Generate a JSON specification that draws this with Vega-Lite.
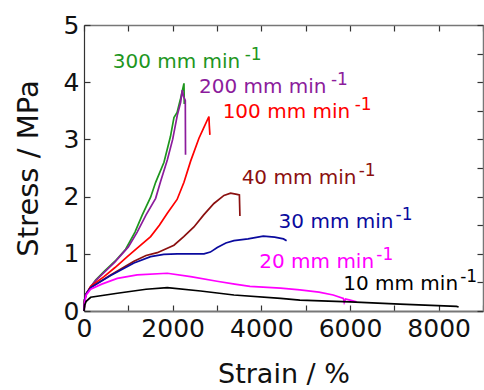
{
  "$schema": "https://vega.github.io/schema/vega-lite/v6.json",
  "width": 399,
  "height": 286,
  "autosize": {"type": "none"},
  "padding": {"left": 84, "top": 25, "right": 1, "bottom": 79},
  "background": "white",
  "config": {
    "view": {"stroke": null},
    "font": "DejaVu Sans",
    "axis": {
      "grid": false,
      "labelFont": "DejaVu Sans",
      "labelFontSize": 25,
      "labelColor": "#111",
      "titleFont": "DejaVu Sans",
      "titleFontWeight": "normal",
      "titleColor": "#111",
      "tickSize": -6,
      "tickColor": "#333",
      "tickWidth": 1.2,
      "domainColor": "#777",
      "domainWidth": 1.5,
      "labelOverlap": false,
      "labelFlush": false
    }
  },
  "datasets": {
    "curves": [
      {"series": "300", "strain": 0, "stress": 0},
      {"series": "300", "strain": 15, "stress": 0.2},
      {"series": "300", "strain": 50, "stress": 0.3},
      {"series": "300", "strain": 150, "stress": 0.42},
      {"series": "300", "strain": 263, "stress": 0.54},
      {"series": "300", "strain": 450, "stress": 0.69},
      {"series": "300", "strain": 700, "stress": 0.87},
      {"series": "300", "strain": 940, "stress": 1.08},
      {"series": "300", "strain": 1150, "stress": 1.38},
      {"series": "300", "strain": 1315, "stress": 1.68},
      {"series": "300", "strain": 1503, "stress": 1.99},
      {"series": "300", "strain": 1616, "stress": 2.25},
      {"series": "300", "strain": 1804, "stress": 2.6},
      {"series": "300", "strain": 1950, "stress": 3.05},
      {"series": "300", "strain": 2029, "stress": 3.38},
      {"series": "300", "strain": 2100, "stress": 3.47},
      {"series": "300", "strain": 2180, "stress": 3.72},
      {"series": "300", "strain": 2255, "stress": 3.98},
      {"series": "300", "strain": 2262, "stress": 3.62},
      {"series": "200", "strain": 0, "stress": 0},
      {"series": "200", "strain": 15, "stress": 0.2},
      {"series": "200", "strain": 50, "stress": 0.3},
      {"series": "200", "strain": 150, "stress": 0.42},
      {"series": "200", "strain": 263, "stress": 0.53},
      {"series": "200", "strain": 450, "stress": 0.67},
      {"series": "200", "strain": 700, "stress": 0.86},
      {"series": "200", "strain": 1000, "stress": 1.12},
      {"series": "200", "strain": 1200, "stress": 1.38},
      {"series": "200", "strain": 1400, "stress": 1.68},
      {"series": "200", "strain": 1616, "stress": 1.97},
      {"series": "200", "strain": 1729, "stress": 2.27},
      {"series": "200", "strain": 1879, "stress": 2.64},
      {"series": "200", "strain": 2000, "stress": 3.0},
      {"series": "200", "strain": 2104, "stress": 3.42},
      {"series": "200", "strain": 2180, "stress": 3.65},
      {"series": "200", "strain": 2217, "stress": 3.86},
      {"series": "200", "strain": 2245, "stress": 3.75},
      {"series": "200", "strain": 2285, "stress": 3.68},
      {"series": "200", "strain": 2290, "stress": 2.73},
      {"series": "100", "strain": 0, "stress": 0},
      {"series": "100", "strain": 15, "stress": 0.2},
      {"series": "100", "strain": 50, "stress": 0.3},
      {"series": "100", "strain": 150, "stress": 0.43},
      {"series": "100", "strain": 451, "stress": 0.6},
      {"series": "100", "strain": 700, "stress": 0.76},
      {"series": "100", "strain": 977, "stress": 0.95},
      {"series": "100", "strain": 1200, "stress": 1.1},
      {"series": "100", "strain": 1503, "stress": 1.3},
      {"series": "100", "strain": 1700, "stress": 1.5},
      {"series": "100", "strain": 1879, "stress": 1.71},
      {"series": "100", "strain": 2100, "stress": 1.95},
      {"series": "100", "strain": 2255, "stress": 2.25},
      {"series": "100", "strain": 2405, "stress": 2.62},
      {"series": "100", "strain": 2593, "stress": 3.02},
      {"series": "100", "strain": 2700, "stress": 3.2},
      {"series": "100", "strain": 2818, "stress": 3.4},
      {"series": "100", "strain": 2826, "stress": 3.25},
      {"series": "100", "strain": 2840, "stress": 3.08},
      {"series": "40", "strain": 0, "stress": 0},
      {"series": "40", "strain": 15, "stress": 0.2},
      {"series": "40", "strain": 50, "stress": 0.3},
      {"series": "40", "strain": 150, "stress": 0.41},
      {"series": "40", "strain": 601, "stress": 0.63},
      {"series": "40", "strain": 1127, "stress": 0.87},
      {"series": "40", "strain": 1400, "stress": 0.97},
      {"series": "40", "strain": 1653, "stress": 1.02},
      {"series": "40", "strain": 2029, "stress": 1.15},
      {"series": "40", "strain": 2250, "stress": 1.3},
      {"series": "40", "strain": 2480, "stress": 1.47},
      {"series": "40", "strain": 2700, "stress": 1.68},
      {"series": "40", "strain": 2931, "stress": 1.88},
      {"series": "40", "strain": 3157, "stress": 2.02},
      {"series": "40", "strain": 3307, "stress": 2.06},
      {"series": "40", "strain": 3450, "stress": 2.04},
      {"series": "40", "strain": 3505, "stress": 2.03},
      {"series": "40", "strain": 3517, "stress": 1.66},
      {"series": "30", "strain": 0, "stress": 0},
      {"series": "30", "strain": 15, "stress": 0.2},
      {"series": "30", "strain": 50, "stress": 0.3},
      {"series": "30", "strain": 150, "stress": 0.41},
      {"series": "30", "strain": 601, "stress": 0.62},
      {"series": "30", "strain": 1127, "stress": 0.84},
      {"series": "30", "strain": 1503, "stress": 0.95},
      {"series": "30", "strain": 1800, "stress": 0.99},
      {"series": "30", "strain": 2104, "stress": 1.0},
      {"series": "30", "strain": 2400, "stress": 1.0},
      {"series": "30", "strain": 2706, "stress": 1.0},
      {"series": "30", "strain": 2850, "stress": 1.03},
      {"series": "30", "strain": 3006, "stress": 1.11},
      {"series": "30", "strain": 3200, "stress": 1.19},
      {"series": "30", "strain": 3382, "stress": 1.23},
      {"series": "30", "strain": 3700, "stress": 1.26},
      {"series": "30", "strain": 4043, "stress": 1.31},
      {"series": "30", "strain": 4300, "stress": 1.29},
      {"series": "30", "strain": 4500, "stress": 1.26},
      {"series": "30", "strain": 4570, "stress": 1.23},
      {"series": "20", "strain": 0, "stress": 0},
      {"series": "20", "strain": 15, "stress": 0.15},
      {"series": "20", "strain": 50, "stress": 0.28},
      {"series": "20", "strain": 150, "stress": 0.38},
      {"series": "20", "strain": 400, "stress": 0.47},
      {"series": "20", "strain": 752, "stress": 0.57},
      {"series": "20", "strain": 1200, "stress": 0.63},
      {"series": "20", "strain": 1879, "stress": 0.66},
      {"series": "20", "strain": 2405, "stress": 0.6},
      {"series": "20", "strain": 3000, "stress": 0.52},
      {"series": "20", "strain": 3400, "stress": 0.47},
      {"series": "20", "strain": 3743, "stress": 0.43},
      {"series": "20", "strain": 4435, "stress": 0.4},
      {"series": "20", "strain": 4870, "stress": 0.37},
      {"series": "20", "strain": 5300, "stress": 0.33},
      {"series": "20", "strain": 5621, "stress": 0.28},
      {"series": "20", "strain": 5850, "stress": 0.22},
      {"series": "20", "strain": 5870, "stress": 0.15},
      {"series": "20", "strain": 5900, "stress": 0.21},
      {"series": "20", "strain": 6000, "stress": 0.19},
      {"series": "20", "strain": 6149, "stress": 0.16},
      {"series": "10", "strain": 0, "stress": 0},
      {"series": "10", "strain": 15, "stress": 0.1},
      {"series": "10", "strain": 50, "stress": 0.17},
      {"series": "10", "strain": 150, "stress": 0.24},
      {"series": "10", "strain": 752, "stress": 0.31},
      {"series": "10", "strain": 1400, "stress": 0.38},
      {"series": "10", "strain": 1879, "stress": 0.41},
      {"series": "10", "strain": 2631, "stress": 0.35},
      {"series": "10", "strain": 3382, "stress": 0.28},
      {"series": "10", "strain": 4435, "stress": 0.22},
      {"series": "10", "strain": 4870, "stress": 0.19},
      {"series": "10", "strain": 6000, "stress": 0.16},
      {"series": "10", "strain": 7125, "stress": 0.12},
      {"series": "10", "strain": 8403, "stress": 0.08},
      {"series": "10", "strain": 8450, "stress": 0.07}
    ],
    "labels": [
      {"series": "300", "label": "300 mm min", "lx": 647, "ly": 4.24, "digits": 3},
      {"series": "200", "label": "200 mm min", "lx": 2593, "ly": 3.81, "digits": 3},
      {"series": "100", "label": "100 mm min", "lx": 3127, "ly": 3.37, "digits": 3},
      {"series": "40", "label": "40 mm min", "lx": 3556, "ly": 2.215, "digits": 2},
      {"series": "30", "label": "30 mm min", "lx": 4390, "ly": 1.446, "digits": 2},
      {"series": "20", "label": "20 mm min", "lx": 3953, "ly": 0.757, "digits": 2},
      {"series": "10", "label": "10 mm min", "lx": 5847, "ly": 0.367, "digits": 2}
    ]
  },
  "layer": [
    {
      "data": {"name": "curves"},
      "mark": {"type": "line", "strokeWidth": 1.7, "interpolate": "linear"},
      "encoding": {
        "x": {
          "field": "strain", "type": "quantitative",
          "scale": {"domain": [0, 9000], "nice": false, "zero": false},
          "axis": {
            "orient": "bottom",
            "title": "Strain / %",
            "titleFontSize": 27,
            "titlePadding": 20,
            "values": [0, 1000, 2000, 3000, 4000, 5000, 6000, 7000, 8000, 9000],
            "labelExpr": "datum.value % 2000 === 0 && datum.value < 9000 ? datum.label : ''",
            "labelPadding": 11,
            "format": "d",
            "domainColor": "#777",
            "domainWidth": 2
          }
        },
        "y": {
          "field": "stress", "type": "quantitative",
          "scale": {"domain": [0, 5], "nice": false, "zero": false},
          "axis": {
            "orient": "left",
            "title": "Stress / MPa",
            "titleFontSize": 29,
            "titlePadding": 20,
            "values": [0, 0.5, 1, 1.5, 2, 2.5, 3, 3.5, 4, 4.5, 5],
            "labelExpr": "datum.value % 1 === 0 ? datum.label : ''",
            "labelPadding": 11,
            "format": "d",
            "domainColor": "#333",
            "domainWidth": 1.2
          }
        },
        "color": {
          "field": "series", "type": "nominal",
          "scale": {
            "domain": ["300", "200", "100", "40", "30", "20", "10"],
            "range": ["#1e961e", "#8c1c9c", "#ff0000", "#8b1010", "#0a0a9e", "#ff00ff", "#000000"]
          },
          "legend": null
        },
        "detail": {"field": "series"}
      }
    },
    {
      "data": {"name": "labels"},
      "mark": {"type": "text", "align": "left", "baseline": "alphabetic", "fontSize": 20, "font": "DejaVu Sans"},
      "encoding": {
        "x": {
          "field": "lx", "type": "quantitative",
          "scale": {"domain": [0, 9000], "nice": false, "zero": false},
          "axis": {
            "orient": "top", "title": null, "labels": false,
            "values": [0, 1000, 2000, 3000, 4000, 5000, 6000, 7000, 8000, 9000],
            "domainColor": "#777", "domainWidth": 1.5
          }
        },
        "y": {
          "field": "ly", "type": "quantitative",
          "scale": {"domain": [0, 5], "nice": false, "zero": false},
          "axis": {
            "orient": "right", "title": null, "labels": false,
            "values": [0, 0.5, 1, 1.5, 2, 2.5, 3, 3.5, 4, 4.5, 5],
            "domainColor": "#777", "domainWidth": 1.5
          }
        },
        "text": {"field": "label"},
        "color": {"field": "series", "type": "nominal", "legend": null}
      }
    },
    {
      "data": {"name": "labels"},
      "transform": [{"filter": "datum.digits === 3"}],
      "mark": {"type": "text", "align": "left", "baseline": "alphabetic", "fontSize": 17, "font": "DejaVu Sans", "text": "-1", "dx": 132, "dy": -8},
      "encoding": {
        "x": {"field": "lx", "type": "quantitative", "axis": null},
        "y": {"field": "ly", "type": "quantitative", "axis": null},
        "color": {"field": "series", "type": "nominal", "legend": null}
      }
    },
    {
      "data": {"name": "labels"},
      "transform": [{"filter": "datum.digits === 2"}],
      "mark": {"type": "text", "align": "left", "baseline": "alphabetic", "fontSize": 17, "font": "DejaVu Sans", "text": "-1", "dx": 117, "dy": -8},
      "encoding": {
        "x": {"field": "lx", "type": "quantitative", "axis": null},
        "y": {"field": "ly", "type": "quantitative", "axis": null},
        "color": {"field": "series", "type": "nominal", "legend": null}
      }
    }
  ],
  "resolve": {"axis": {"x": "independent", "y": "independent"}}
}
